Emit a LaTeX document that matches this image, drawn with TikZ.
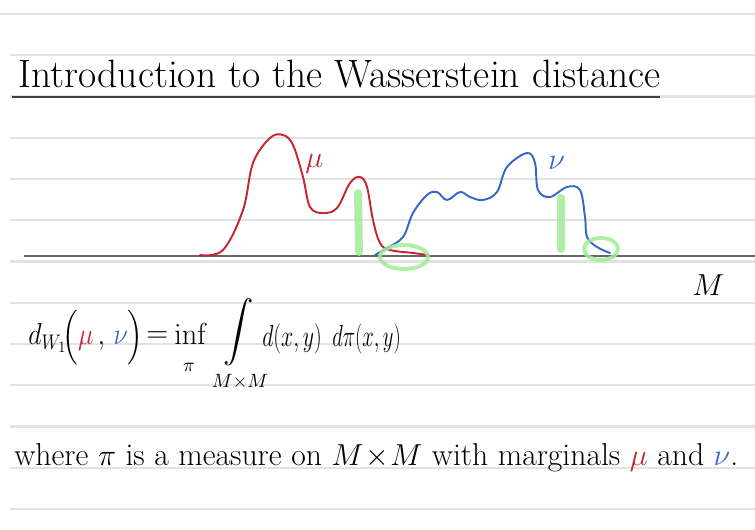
\documentclass[tikz,border=0pt]{standalone}
\usepackage{amsmath}
\usepackage{graphicx}
\usepackage{xcolor}
\usepackage{tikz}
\usetikzlibrary{calc}
\definecolor{mured}{RGB}{196,38,52}
\definecolor{nublue}{RGB}{52,104,200}
\definecolor{hlgreen}{RGB}{160,236,150}
\definecolor{rulegray}{RGB}{226,226,226}
\tikzstyle{rule}=[rulegray, line width=1.2pt]
\tikzstyle{axis}=[black!60, line width=1.6pt]
\tikzstyle{meas}=[line width=1.1pt, line join=round, line cap=round]
\tikzstyle{hlbar}=[hlgreen, line width=4.5pt, line cap=round, opacity=0.85]
\tikzstyle{hlloop}=[hlgreen, line width=2.2pt, opacity=0.85]
\tikzstyle{hand}=[inner sep=0pt, anchor=base west]
\tikzstyle{big}=[hand, font=\fontsize{18}{21}\selectfont]
\tikzstyle{lim}=[inner sep=0pt, anchor=base, font=\fontsize{11}{13}\selectfont]

\begin{document}
\begin{tikzpicture}[x=0.02cm, y=-0.02cm]
\useasboundingbox[fill=white] (0,0) rectangle (755,530);
% ruled paper
\draw[rule] (0,14) -- (755,14);
\foreach \k in {1,...,12}
  \draw[rule] (10,14+41.25*\k) -- (755,14+41.25*\k);
% title
\node[hand, font=\fontsize{22.5}{26}\selectfont] (title) at (18,88) {Introduction to the Wasserstein distance};
\draw[black!75, line width=1.5pt] (12,97) -- (660,97);
% the base space
\draw[axis] (24,256) -- (755,256);
\node[big] (M) at (692,296) {$M$};
% the two measures
\draw[meas, mured] plot[smooth, tension=0.6] coordinates {(200,255) (223,250) (243,210) (253,163) (270,138) (283,135) (293,145) (303,177) (310,207) (323,213) (337,208) (350,183) (360,177) (367,187) (373,220) (380,243) (390,250) (413,253) (428,255)};
\node[hand, mured, font=\fontsize{17}{20}\selectfont] (mu) at (305,168) {$\mu$};
\draw[meas, nublue] plot[smooth, tension=0.6] coordinates {(375,255) (387,248) (403,237) (413,213) (427,195) (437,192) (447,200) (460,192) (470,197) (483,200) (497,192) (507,167) (527,153) (535,163) (538,190) (550,197) (567,187) (580,190) (585,217) (587,237) (597,247) (610,253)};
\node[hand, nublue, font=\fontsize{17}{20}\selectfont] (nu) at (548,170) {$\nu$};
% highlights
\draw[hlbar] (358,193) -- (359,252);
\draw[hlbar] (561,198) -- (561,249);
\draw[hlloop] (404,257) ellipse [x radius=24, y radius=12];
\draw[hlloop] (601,249) ellipse [x radius=17, y radius=11];
% definition
\node[big] (lhs) at (28,345) {\scalebox{0.86}[1]{$d_{W_1}\!\Bigl(\textcolor{mured}{\mu}\,,\,\textcolor{nublue}{\nu}\Bigr)$}};
\node[big] (eq) at (146,343) {$=$};
\node[big] (inf) at (174,345) {$\inf$};
\node[lim] (infpi) at (189,372) {$\pi$};
\node[big] (int) at (223,340) {$\displaystyle\int$};
\node[lim] (intdom) at (240,388) {$M{\times}M$};
\node[big] (cost) at (262,347) {\scalebox{0.72}[1]{$d(x,y)$}};
\node[big] (plan) at (332,347) {\scalebox{0.68}[1]{$d\pi(x,y)$}};
\node[hand, font=\fontsize{18}{20}\selectfont] (where) at (14,466)
  {where $\pi$ is a measure on $M\!\times\! M$ with marginals \textcolor{mured}{$\mu$} and \textcolor{nublue}{$\nu$}.};
\end{tikzpicture}
\end{document}
